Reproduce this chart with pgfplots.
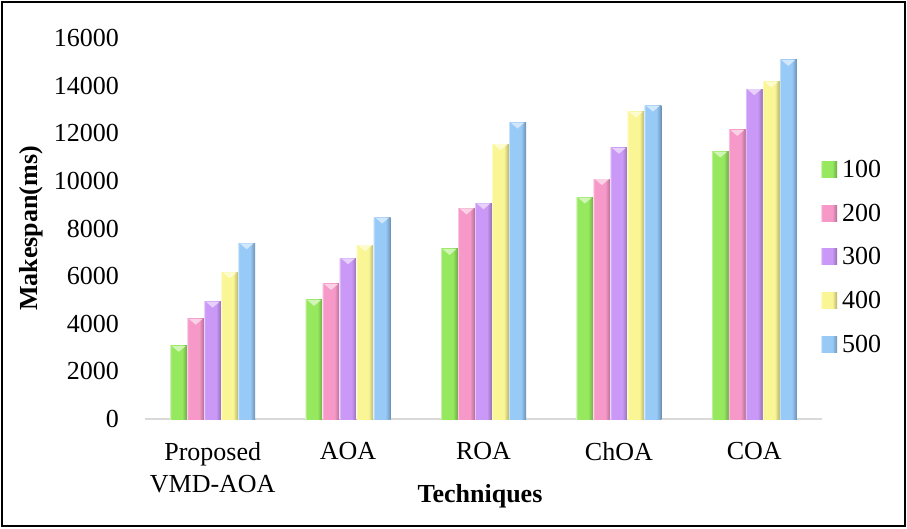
\documentclass[border=0pt]{standalone}
\usepackage{pgfplots}
\pgfplotsset{compat=1.18}
\usepackage{fontspec}
\setmainfont{Liberation Serif}

\definecolor{cG}{RGB}{150,232,95}
\definecolor{cP}{RGB}{246,152,200}
\definecolor{cV}{RGB}{202,152,246}
\definecolor{cY}{RGB}{250,246,150}
\definecolor{cB}{RGB}{152,202,248}
\definecolor{baseline}{RGB}{217,217,217}

% rounded-bar look: light left edge, flat face, darker right edge
\newcommand\barshading[2]{%
  \pgfdeclarehorizontalshading{#1}{100bp}{%
    color(0bp)=(#2!55!white); color(25bp)=(#2!55!white);
    color(28bp)=(#2); color(60bp)=(#2);
    color(72bp)=(#2!78!black); color(75bp)=(#2!68!black);
    color(100bp)=(#2!68!black)}}
\barshading{shG}{cG}
\barshading{shP}{cP}
\barshading{shV}{cV}
\barshading{shY}{cY}
\barshading{shB}{cB}

% bevel highlight on the top of each bar
\pgfdeclareplotmark{bevel}{%
  \pgfpathmoveto{\pgfpoint{-7pt}{0pt}}%
  \pgfpathlineto{\pgfpoint{7pt}{0pt}}%
  \pgfpathlineto{\pgfpoint{0pt}{-6pt}}%
  \pgfpathclose\pgfusepathqfill}

\newcommand\bigfont{\fontsize{26}{32}\selectfont}

% one bar: shift, shading, colour, x, makespan
\newcommand\onebar[5]{%
  \addplot[forget plot, bar shift=#1, shading=#2,
    mark options={xshift=#1, fill=#3!45!white}] coordinates {(#4,#5)};}
% one technique: x, then makespan for 100, 200, 300, 400, 500 tasks
\newcommand\bargroup[6]{%
  \onebar{-34pt}{shG}{cG}{#1}{#2}%
  \onebar{-17pt}{shP}{cP}{#1}{#3}%
  \onebar{0pt}{shV}{cV}{#1}{#4}%
  \onebar{17pt}{shY}{cY}{#1}{#5}%
  \onebar{34pt}{shB}{cB}{#1}{#6}}

\begin{document}
\begin{tikzpicture}
\useasboundingbox (0pt,0pt) rectangle (907pt,528pt);
\draw[line width=2pt] (2pt,2pt) rectangle (905pt,526pt);
\begin{axis}[
  at={(145pt,109pt)}, anchor=south west,
  scale only axis, width=677pt, height=381pt,
  ybar=0pt, bar width=17pt,
  xmin=-0.5, xmax=4.5, ymin=0, ymax=16000,
  enlargelimits=false, clip=false,
  axis x line=bottom, axis y line=left,
  x axis line style={draw=baseline, line width=1.5pt, -},
  y axis line style={draw=none},
  xtick={0,1,2,3,4},
  xticklabels={{Proposed\\VMD-AOA},AOA,ROA,ChOA,COA},
  ytick={0,2000,...,16000},
  major tick length=0pt,
  scaled y ticks=false,
  /pgf/number format/1000 sep={},
  /pgf/number format/assume math mode=true,
  tick label style={font=\bigfont},
  x tick label style={align=center, anchor=north, inner sep=0pt, yshift=-23pt},
  y tick label style={anchor=east, inner sep=0pt, xshift=-26pt},
  xlabel={Techniques},
  xlabel style={font=\bigfont\bfseries, at={(axis description cs:0.4948,0)}, anchor=base, yshift=-83pt},
  ylabel={Makespan(ms)},
  ylabel style={font=\bigfont\bfseries, at={(axis description cs:-0.1677,0.5)}, anchor=center},
  legend cell align=left,
  legend style={draw=none, fill=none, font=\bigfont,
    at={(rel axis cs:0.9985,0.680)}, anchor=north west,
    inner sep=0pt, row sep=24.9pt, nodes={inner sep=0pt}},
  legend image code/.code={\fill[#1] (0pt,-8pt) rectangle (16pt,8pt); \path (21pt,0pt);},
  every axis plot/.append style={draw=none, mark=bevel},
]
\bargroup{0}{3070}{4210}{4930}{6160}{7380}
\bargroup{1}{5000}{5670}{6750}{7300}{8460}
\bargroup{2}{7140}{8840}{9060}{11540}{12450}
\bargroup{3}{9300}{10070}{11390}{12910}{13160}
\bargroup{4}{11230}{12140}{13850}{14170}{15080}
\addlegendimage{shading=shG}\addlegendentry{100}
\addlegendimage{shading=shP}\addlegendentry{200}
\addlegendimage{shading=shV}\addlegendentry{300}
\addlegendimage{shading=shY}\addlegendentry{400}
\addlegendimage{shading=shB}\addlegendentry{500}
\end{axis}
\end{tikzpicture}
\end{document}
